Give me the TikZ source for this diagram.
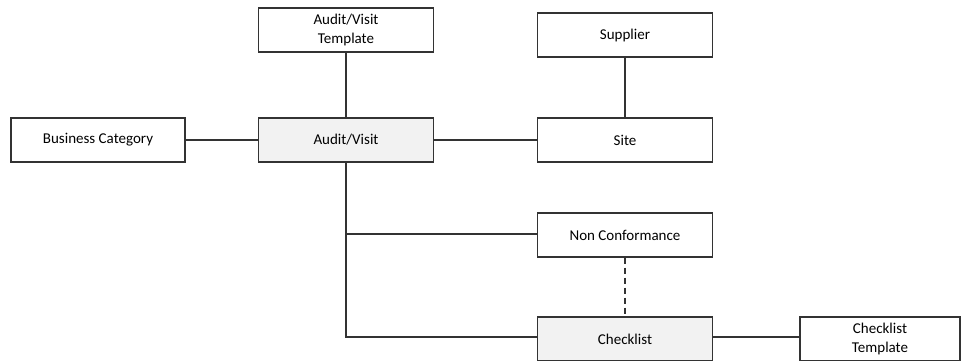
\documentclass[tikz,border=0pt]{standalone}
\usepackage{fontspec}
\setmainfont{Carlito}
\definecolor{boxgray}{HTML}{F2F2F2}
\definecolor{linec}{HTML}{333333}
\begin{document}
\begin{tikzpicture}[x=1pt,y=-1pt,
  entity/.style={draw=linec, line width=1.3pt, fill=white, minimum height=44pt, align=center,
     inner sep=0pt, font=\fontsize{15}{19}\selectfont},
  wide/.style={minimum width=175pt},
  shade/.style={fill=boxgray},
  conn/.style={draw=linec, line width=1.3pt}]
\useasboundingbox (0,0) rectangle (968,360);
\node[entity, wide] (avt) at (346,30) {Audit/Visit\\Template};
\node[entity, wide] (sup) at (625,35) {Supplier};
\node[entity, minimum width=174pt] (bc) at (98,140) {Business Category};
\node[entity, wide, shade] (av) at (346,140) {Audit/Visit};
\node[entity, wide] (site) at (625,140) {Site};
\node[entity, wide] (nc) at (625,235) {Non Conformance};
\node[entity, wide, shade] (cl) at (625,339) {Checklist};
\node[entity, minimum width=160pt] (clt) at (880,339) {Checklist\\Template};
\coordinate (j1) at (346,234);
\coordinate (j2) at (346,337);
\draw[conn] (avt) -- (av);
\draw[conn] (sup) -- (site);
\draw[conn] (bc) -- (av);
\draw[conn] (av) -- (site);
\draw[conn] (av.south) -- (j1) -- (j2) -- (j2 -| cl.west);
\draw[conn] (j1) -- (j1 -| nc.west);
\draw[conn, dashed, dash pattern=on 6pt off 4pt] (nc) -- (cl);
\draw[conn] (cl.east |- j2) -- (clt.west |- j2);
\end{tikzpicture}
\end{document}
